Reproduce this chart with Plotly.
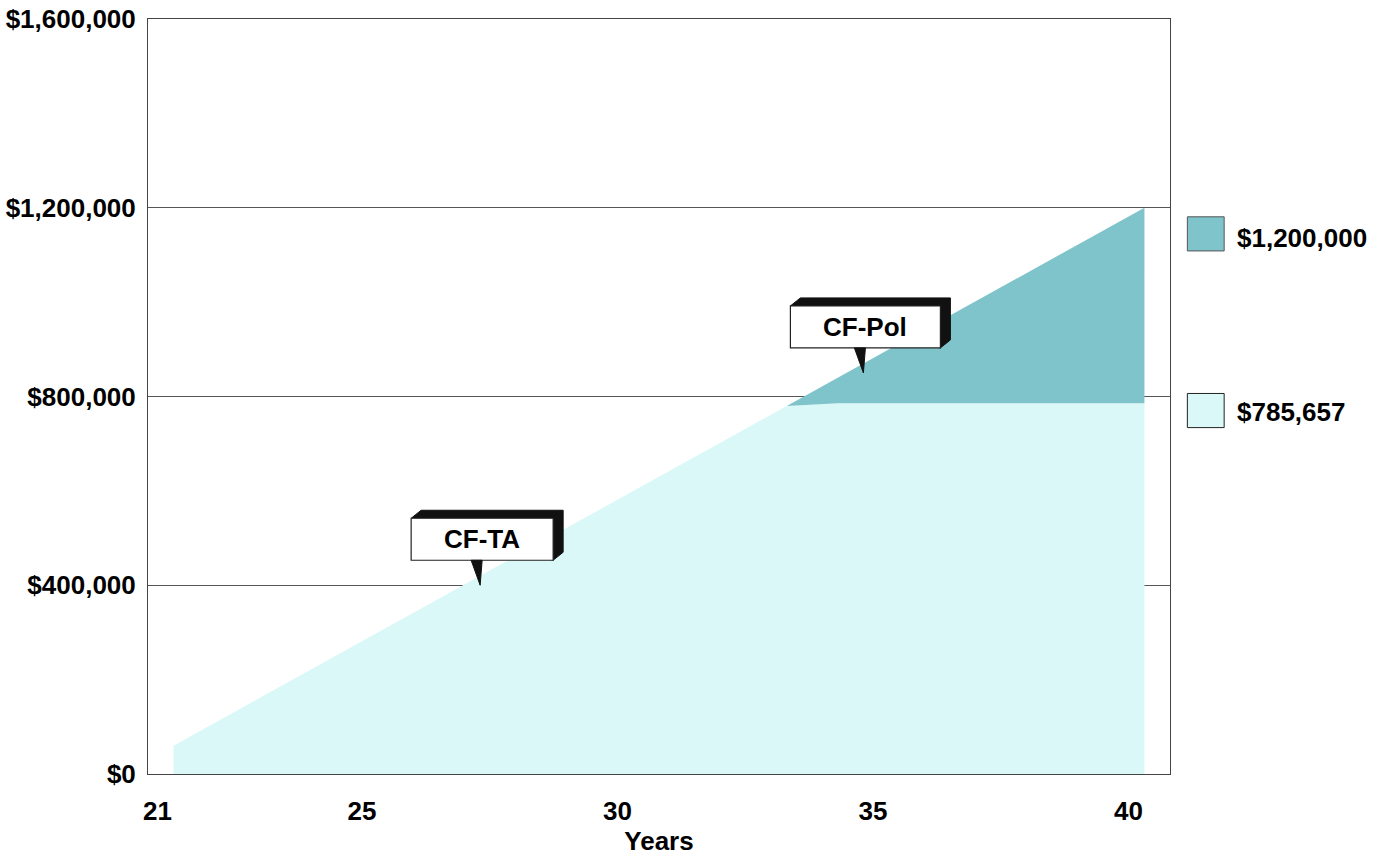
import plotly.graph_objects as go

# Age in years and the two stacked cash-value components
years = [21, 22, 23, 24, 25, 26, 27, 28, 29, 30,
         31, 32, 33, 34, 35, 36, 37, 38, 39, 40]
cf_ta = [60000, 120000, 180000, 240000, 300000, 360000, 420000, 480000, 540000, 600000,
         660000, 720000, 780000, 785657, 785657, 785657, 785657, 785657, 785657, 785657]
cf_pol = [0, 0, 0, 0, 0, 0, 0, 0, 0, 0,
          0, 0, 0, 54343, 114343, 174343, 234343, 294343, 354343, 414343]

x_ticks = [21, 25, 30, 35, 40]
y_ticks = [0, 400000, 800000, 1200000, 1600000]
y_tick_text = [f"${v:,}" for v in y_ticks]

LIGHT = "#dbf8f8"
TEAL = "#7ec4ca"
FONT = "Liberation Sans, Arial, sans-serif"
SIZE = 26

fig = go.Figure()
fig.add_trace(go.Scatter(x=years, y=cf_ta, name="CF-TA", stackgroup="one",
                         mode="lines", line=dict(width=0, color=LIGHT),
                         fillcolor=LIGHT, hoverinfo="x+y"))
fig.add_trace(go.Scatter(x=years, y=cf_pol, name="CF-Pol", stackgroup="one",
                         mode="lines", line=dict(width=0, color=TEAL),
                         fillcolor=TEAL, hoverinfo="x+y"))


def callout(ax, ay, left, right, label):
    """Boxed label with a 3-D shadow and a pointer whose tip sits at (ax, ay)."""
    bot, top, dx, dy = 25, 67, 10, 8
    common = dict(xref="x", yref="y", xsizemode="pixel", ysizemode="pixel",
                  xanchor=ax, yanchor=ay, layer="above")
    shadow = (f"M{left},{top} L{left + dx},{top + dy} L{right + dx},{top + dy} "
              f"L{right + dx},{bot + dy} L{right},{bot} Z")
    box = f"M{left},{bot} L{left},{top} L{right},{top} L{right},{bot} Z"
    pointer = f"M-9,{bot} L2,{bot} L0,0 Z"
    fig.add_shape(type="path", path=shadow, fillcolor="#111111",
                  line=dict(color="#111111", width=1), **common)
    fig.add_shape(type="path", path=box, fillcolor="white",
                  line=dict(color="#222222", width=1.2), **common)
    fig.add_shape(type="path", path=pointer, fillcolor="#111111",
                  line=dict(color="#111111", width=1), **common)
    fig.add_annotation(x=ax, y=ay, xref="x", yref="y", text=label, showarrow=False,
                       xshift=(left + right) / 2, yshift=(bot + top) / 2,
                       font=dict(family=FONT, size=SIZE, color="black", weight="bold"))


callout(27, 400000, -69, 73, "CF-TA")
callout(34.5, 850000, -73, 77, "CF-Pol")

# Legend swatches with the end values of each band
total_end = cf_ta[-1] + cf_pol[-1]
legend_rows = [
    (TEAL, "#555555", 0.6928, 0.738, 0.710, f"${total_end:,}"),
    (LIGHT, "#222222", 0.4588, 0.504, 0.480, f"${cf_ta[-1]:,}"),
]
for fill, edge, y0, y1, ylab, text in legend_rows:
    fig.add_shape(type="rect", xref="paper", yref="paper",
                  x0=1.017, x1=1.053, y0=y0, y1=y1,
                  fillcolor=fill, line=dict(color=edge, width=1))
    fig.add_annotation(xref="paper", yref="paper", x=1.064, y=ylab, text=text,
                       showarrow=False, xanchor="left", yanchor="middle",
                       font=dict(family=FONT, size=SIZE, color="black", weight="bold"))

fig.update_layout(
    width=1388, height=856, autosize=False,
    margin=dict(l=148, r=218, t=19, b=82),
    plot_bgcolor="white", paper_bgcolor="white",
    showlegend=False,
    font=dict(family=FONT, size=SIZE, color="black", weight="bold"),
    xaxis=dict(range=[20.5, 40.5], tickvals=x_ticks, showgrid=False, zeroline=False,
               showline=True, linecolor="#444444", linewidth=1, mirror=True,
               ticks="", ticklabelshift=-16, ticklabelstandoff=14, automargin=False,
               tickfont=dict(family=FONT, size=SIZE, color="black", weight="bold"),
               title=dict(text="Years", standoff=10,
                          font=dict(family=FONT, size=SIZE, color="black", weight="bold"))),
    yaxis=dict(range=[0, 1600000], tickvals=y_ticks, ticktext=y_tick_text,
               showgrid=True, gridcolor="#555555", gridwidth=1, zeroline=False,
               showline=True, linecolor="#444444", linewidth=1, mirror=True,
               ticks="", ticklabelstandoff=6, automargin=False,
               tickfont=dict(family=FONT, size=SIZE, color="black", weight="bold")),
)

fig.write_html("out.html")
